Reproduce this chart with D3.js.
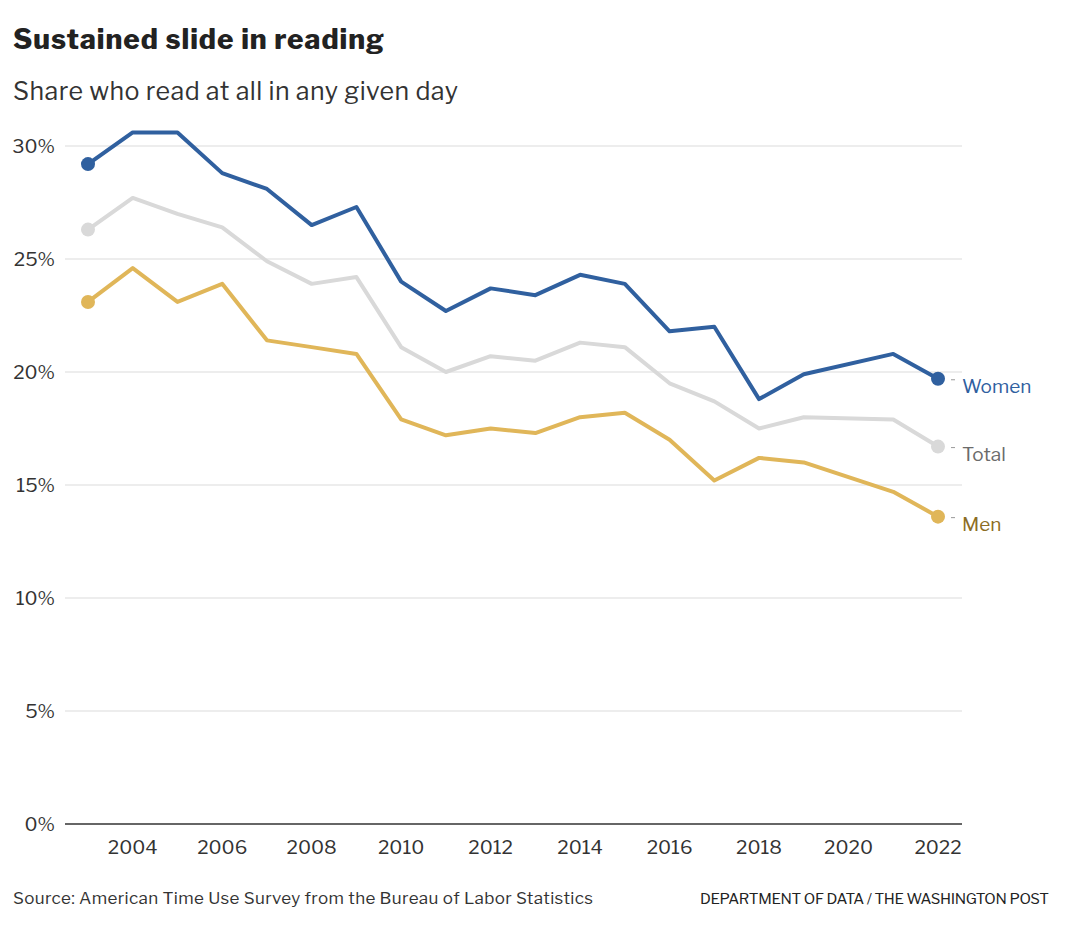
<!DOCTYPE html>
<html>
<head>
<meta charset="utf-8">
<script src="https://cdn.jsdelivr.net/npm/d3@7"></script>
<style>
  body { margin: 0; background: #fff; }
  svg { display: block; }
</style>
</head>
<body>
<div id="chart"></div>
<script>
// Data (2020 has no survey value)
const years = [2003, 2004, 2005, 2006, 2007, 2008, 2009, 2010, 2011, 2012,
               2013, 2014, 2015, 2016, 2017, 2018, 2019, 2021, 2022];
const women = [29.2, 30.6, 30.6, 28.8, 28.1, 26.5, 27.3, 24.0, 22.7, 23.7,
               23.4, 24.3, 23.9, 21.8, 22.0, 18.8, 19.9, 20.8, 19.7];
const total = [26.3, 27.7, 27.0, 26.4, 24.9, 23.9, 24.2, 21.1, 20.0, 20.7,
               20.5, 21.3, 21.1, 19.5, 18.7, 17.5, 18.0, 17.9, 16.7];
const men   = [23.1, 24.6, 23.1, 23.9, 21.4, 21.1, 20.8, 17.9, 17.2, 17.5,
               17.3, 18.0, 18.2, 17.0, 15.2, 16.2, 16.0, 14.7, 13.6];
const yTicks = [0, 5, 10, 15, 20, 25, 30];
const xTicks = [2004, 2006, 2008, 2010, 2012, 2014, 2016, 2018, 2020, 2022];

const series = [
  { name: "Total", values: total, color: "#d9d9d9", text: "#6b6b6b" },
  { name: "Men",   values: men,   color: "#e0b659", text: "#8c6d24" },
  { name: "Women", values: women, color: "#30609f", text: "#30609f" }
];

const width = 1080, height = 929;
const font = "'Libre Franklin', 'Roboto', 'Noto Sans', sans-serif";

const svg = d3.select("#chart").append("svg")
    .attr("width", width)
    .attr("height", height)
    .style("font-family", font);

const x = d3.scaleLinear().domain([2003, 2022]).range([88, 938]);
const y = d3.scaleLinear().domain([0, 30]).range([824, 146]);

// Title and subtitle
svg.append("text")
    .attr("x", 13).attr("y", 49)
    .attr("font-size", 28).attr("font-weight", 800)
    .attr("fill", "#222")
    .attr("textLength", 371)
    .text("Sustained slide in reading");

svg.append("text")
    .attr("x", 13).attr("y", 100)
    .attr("font-size", 25)
    .attr("fill", "#333")
    .attr("textLength", 445)
    .text("Share who read at all in any given day");

// Gridlines and y labels
const grid = svg.append("g");
grid.selectAll("line")
    .data(yTicks.filter(d => d > 0))
    .join("line")
    .attr("x1", 65).attr("x2", 962)
    .attr("y1", d => y(d)).attr("y2", d => y(d))
    .attr("stroke", "#dcdcdc")
    .attr("stroke-width", 1.2);

grid.selectAll("text")
    .data(yTicks)
    .join("text")
    .attr("x", 55)
    .attr("y", d => y(d))
    .attr("dy", "0.35em")
    .attr("text-anchor", "end")
    .attr("font-size", 19)
    .attr("fill", "#333")
    .text(d => d + "%");

// Zero baseline
svg.append("line")
    .attr("x1", 65).attr("x2", 962)
    .attr("y1", y(0)).attr("y2", y(0))
    .attr("stroke", "#333")
    .attr("stroke-width", 1.6);

// x labels
svg.append("g").selectAll("text")
    .data(xTicks)
    .join("text")
    .attr("x", d => x(d))
    .attr("y", 854)
    .attr("text-anchor", "middle")
    .attr("font-size", 19)
    .attr("fill", "#333")
    .text(d => d);

// Lines
const line = d3.line()
    .x((d, i) => x(years[i]))
    .y(d => y(d));

const g = svg.append("g");
series.forEach(function(s) {
    g.append("path")
        .datum(s.values)
        .attr("fill", "none")
        .attr("stroke", s.color)
        .attr("stroke-width", 4)
        .attr("stroke-linejoin", "round")
        .attr("d", line);

    const last = s.values.length - 1;
    [0, last].forEach(function(i) {
        g.append("circle")
            .attr("cx", x(years[i]))
            .attr("cy", y(s.values[i]))
            .attr("r", 7)
            .attr("fill", s.color);
    });

    const ey = y(s.values[last]);
    g.append("line")
        .attr("x1", x(years[last]) + 13).attr("x2", x(years[last]) + 17)
        .attr("y1", ey + 1).attr("y2", ey + 1)
        .attr("stroke", "#999")
        .attr("stroke-width", 1);

    g.append("text")
        .attr("x", 962)
        .attr("y", ey + 8)
        .attr("dy", "0.35em")
        .attr("font-size", 19)
        .attr("fill", s.text)
        .text(s.name);
});

// Footer
svg.append("text")
    .attr("x", 13).attr("y", 904)
    .attr("font-size", 17)
    .attr("fill", "#333")
    .attr("textLength", 580)
    .text("Source: American Time Use Survey from the Bureau of Labor Statistics");

svg.append("text")
    .attr("x", 1049).attr("y", 904)
    .attr("text-anchor", "end")
    .attr("font-size", 15)
    .attr("fill", "#222")
    .attr("textLength", 349)
    .text("DEPARTMENT OF DATA / THE WASHINGTON POST");
</script>
</body>
</html>
